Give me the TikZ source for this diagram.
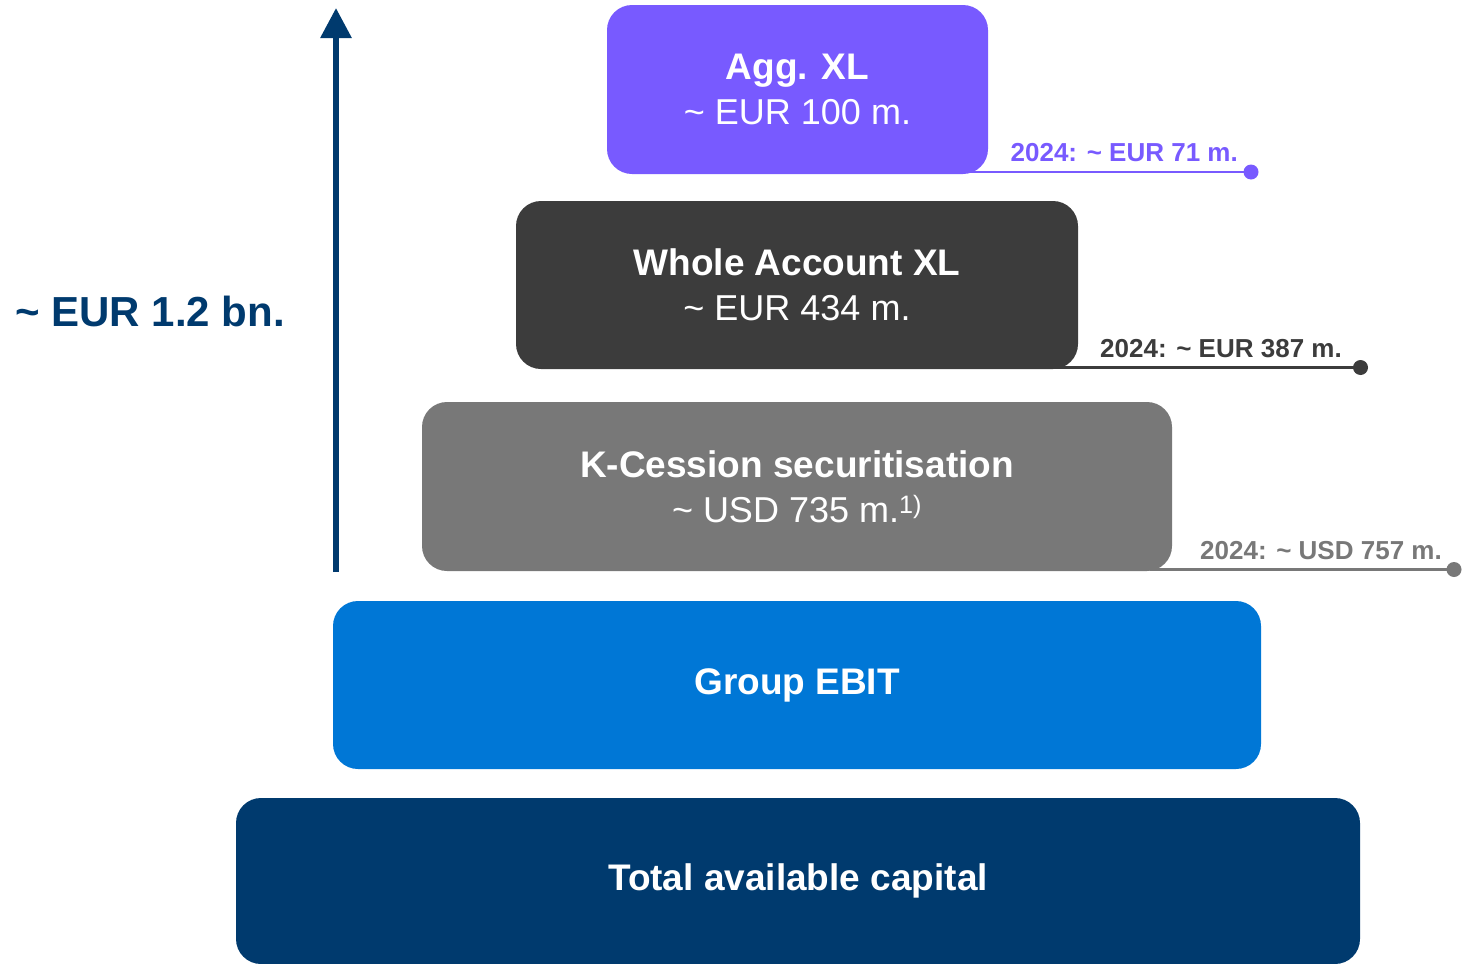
\documentclass[tikz,border=0pt]{standalone}
\usepackage{fontspec}
\setmainfont{Liberation Sans}
\usetikzlibrary{arrows.meta}
\definecolor{cPurple}{HTML}{785AFF}
\definecolor{cDark}{HTML}{3C3C3C}
\definecolor{cGray}{HTML}{787878}
\definecolor{cBlue}{HTML}{0077D6}
\definecolor{cNavy}{HTML}{003A6E}
\tikzset{
  tier/.style={rectangle, rounded corners=25pt, draw=none, text=white, align=center, inner sep=0pt,
    font=\fontsize{37}{45}\selectfont},
  note/.style={anchor=south east, inner sep=0pt, font=\fontsize{26}{30}\selectfont\bfseries},
  lead/.style={line width=2.5pt},
  dotend/.style={circle, inner sep=0pt, minimum size=15pt},
}
\begin{document}
\begin{tikzpicture}[x=1pt,y=-1pt]
\useasboundingbox (0,0) rectangle (1465,964);
% tiers
\node[tier, fill=cPurple, minimum width=381pt, minimum height=169pt] (agg) at (797.5,89.5)
  {\textbf{Agg. XL}\\\fontsize{36}{45}\selectfont\textasciitilde{} EUR 100 m.};
\node[tier, fill=cDark, minimum width=562pt, minimum height=168pt] (wax) at (797,285)
  {\textbf{Whole Account XL}\\\fontsize{36}{45}\selectfont\textasciitilde{} EUR 434 m.};
\node[tier, fill=cGray, minimum width=750pt, minimum height=169pt] (kc) at (797,486.5)
  {\textbf{K-Cession securitisation}\\\fontsize{36}{45}\selectfont\textasciitilde{} USD 735 m.\textsuperscript{1)}};
\node[tier, fill=cBlue, minimum width=928pt, minimum height=168pt] (ebit) at (797,685)
  {\textbf{Group EBIT}};
\node[tier, fill=cNavy, minimum width=1124pt, minimum height=166pt] (tac) at (798,881)
  {\textbf{Total available capital}};
% arrow
\coordinate (abot) at (336,572);
\coordinate (atop) at (336,8);
\draw[cNavy, line width=6pt, -{Triangle[width=30pt,length=30pt]}] (abot) -- (atop);
\node[text=cNavy, anchor=east, inner sep=0pt, font=\fontsize{42}{48}\selectfont\bfseries] (total) at (285,311) {\textasciitilde{} EUR 1.2 bn.};
% notes
\coordinate (s1) at (960,172);
\node[dotend, fill=cPurple] (d1) at (1251,172) {};
\draw[cPurple, lead] (s1) -- (d1.center);
\node[note, text=cPurple] (n1) at (1238,162) {2024: \textasciitilde{} EUR 71 m.};
\coordinate (s2) at (1055,367.5);
\node[dotend, fill=cDark] (d2) at (1360.5,367.5) {};
\draw[cDark, lead] (s2) -- (d2.center);
\node[note, text=cDark] (n2) at (1342,357.5) {2024: \textasciitilde{} EUR 387 m.};
\coordinate (s3) at (1150,569.5);
\node[dotend, fill=cGray] (d3) at (1454,569.5) {};
\draw[cGray, lead] (s3) -- (d3.center);
\node[note, text=cGray] (n3) at (1442,559.5) {2024: \textasciitilde{} USD 757 m.};
\end{tikzpicture}
\end{document}
